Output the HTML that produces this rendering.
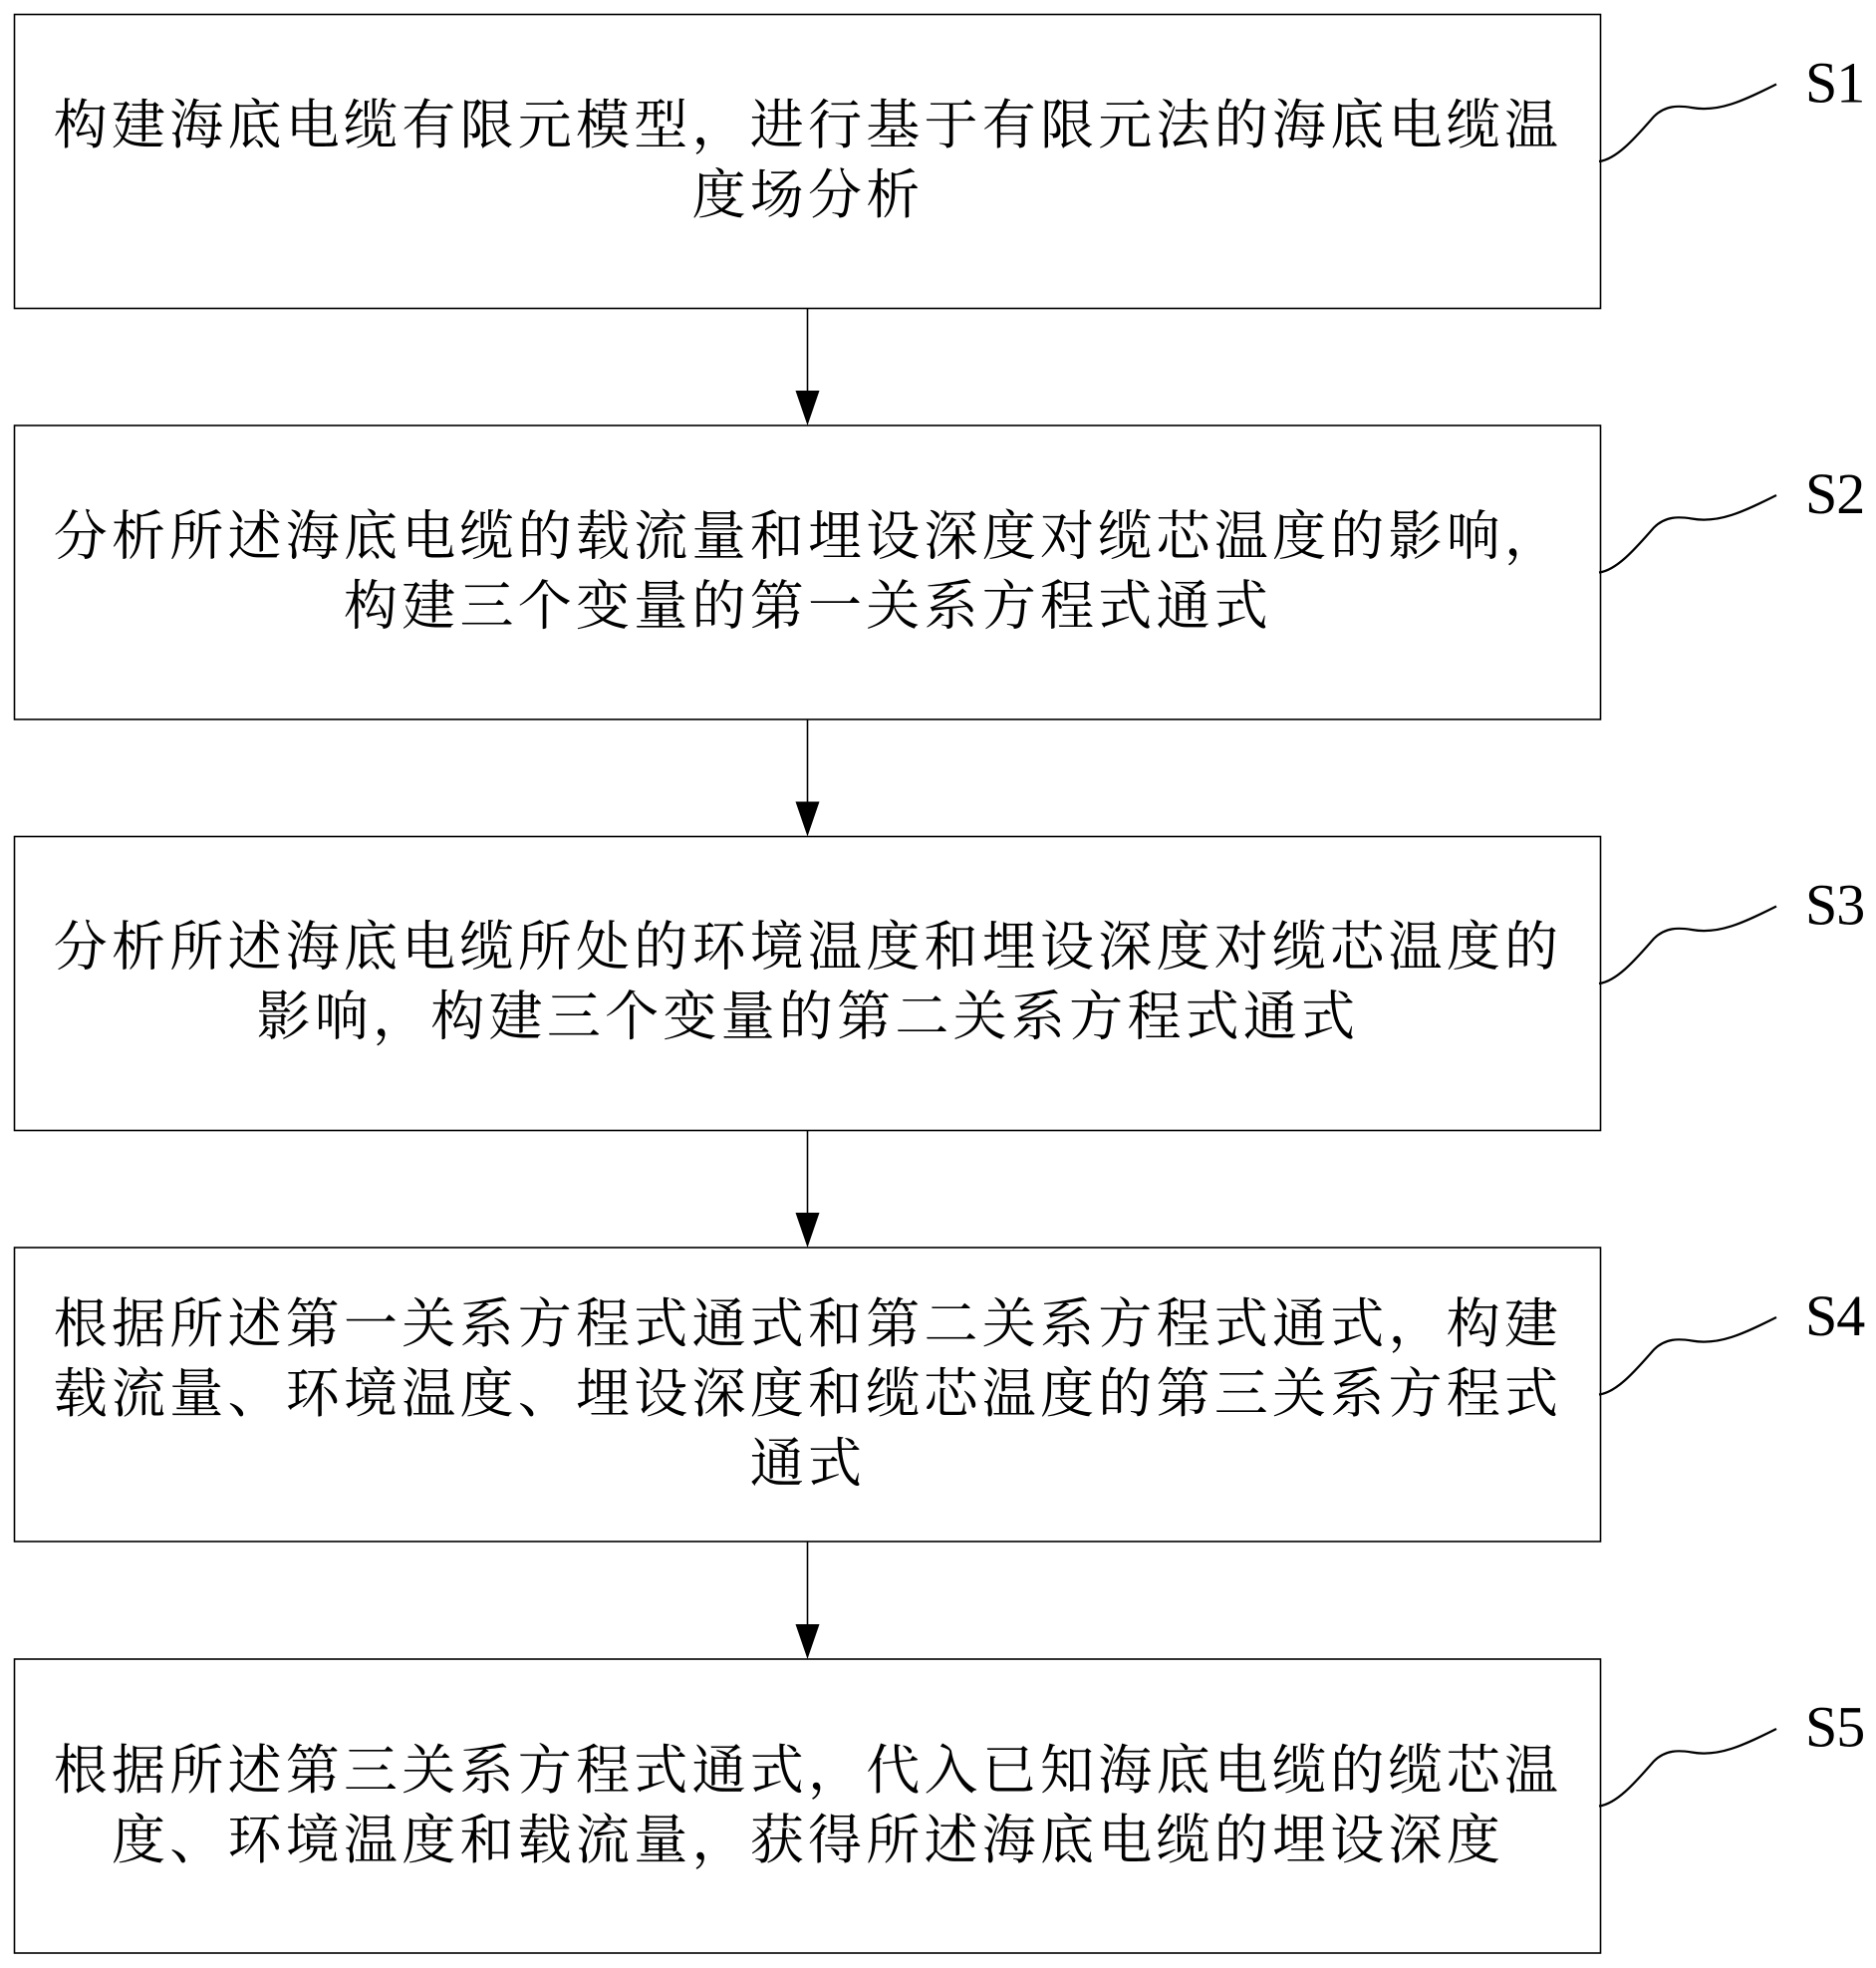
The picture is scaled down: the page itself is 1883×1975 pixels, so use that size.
<!DOCTYPE html>
<html><head><meta charset="utf-8"><style>
html,body{margin:0;padding:0;background:#fff}
svg{display:block}
.t{font-family:"Liberation Serif","Noto Serif CJK SC",serif;font-size:54px;letter-spacing:4.25px;text-anchor:middle;fill:#000}
.s{font-family:"Liberation Serif",serif;font-size:58px;letter-spacing:-1px;fill:#000}
.b{fill:none;stroke:#000;stroke-width:1.6}
.c{fill:none;stroke:#000;stroke-width:2.2}
.a{stroke:#000;stroke-width:1.6}
</style></head><body>
<svg width="1883" height="1975" viewBox="0 0 1883 1975" xmlns="http://www.w3.org/2000/svg">
<rect class="b" x="14.500" y="14.500" width="1592" height="295"/>
<rect class="b" x="14.500" y="427" width="1592" height="295"/>
<rect class="b" x="14.500" y="839.500" width="1592" height="295"/>
<rect class="b" x="14.500" y="1252" width="1592" height="295"/>
<rect class="b" x="14.500" y="1665" width="1592" height="295"/>

<text class="t" x="811" y="144">构建海底电缆有限元模型，进行基于有限元法的海底电缆温</text>
<text class="t" x="811" y="214">度场分析</text>
<text class="t" x="811" y="556.500">分析所述海底电缆的载流量和埋设深度对缆芯温度的影响，</text>
<text class="t" x="811" y="626.500">构建三个变量的第一关系方程式通式</text>
<text class="t" x="811" y="968.500">分析所述海底电缆所处的环境温度和埋设深度对缆芯温度的</text>
<text class="t" x="811" y="1038.500">影响，构建三个变量的第二关系方程式通式</text>
<text class="t" x="811" y="1347">根据所述第一关系方程式通式和第二关系方程式通式，构建</text>
<text class="t" x="811" y="1417">载流量、环境温度、埋设深度和缆芯温度的第三关系方程式</text>
<text class="t" x="811" y="1487">通式</text>
<text class="t" x="811" y="1795">根据所述第三关系方程式通式，代入已知海底电缆的缆芯温</text>
<text class="t" x="811" y="1865">度、环境温度和载流量，获得所述海底电缆的埋设深度</text>

<g>
<line class="a" x1="810.500" y1="309" x2="810.500" y2="395"/><polygon points="798.500,392 822.500,392 810.500,427"/>
<line class="a" x1="810.500" y1="722" x2="810.500" y2="807"/><polygon points="798.500,804.500 822.500,804.500 810.500,839.500"/>
<line class="a" x1="810.500" y1="1134" x2="810.500" y2="1220"/><polygon points="798.500,1217 822.500,1217 810.500,1252"/>
<line class="a" x1="810.500" y1="1547" x2="810.500" y2="1633"/><polygon points="798.500,1630 822.500,1630 810.500,1665"/>
</g>

<g>
<path class="c" d="M1605,162 C1622,160 1640,140 1660,117 C1672,105 1686,106 1698,108 C1725,113 1750,101 1783,84.500"/>
<path class="c" transform="translate(0,412.500)" d="M1605,162 C1622,160 1640,140 1660,117 C1672,105 1686,106 1698,108 C1725,113 1750,101 1783,84.500"/>
<path class="c" transform="translate(0,825)" d="M1605,162 C1622,160 1640,140 1660,117 C1672,105 1686,106 1698,108 C1725,113 1750,101 1783,84.500"/>
<path class="c" transform="translate(0,1237.500)" d="M1605,162 C1622,160 1640,140 1660,117 C1672,105 1686,106 1698,108 C1725,113 1750,101 1783,84.500"/>
<path class="c" transform="translate(0,1650.500)" d="M1605,162 C1622,160 1640,140 1660,117 C1672,105 1686,106 1698,108 C1725,113 1750,101 1783,84.500"/>
</g>

<text class="s" x="1812" y="102.500">S1</text>
<text class="s" x="1812" y="515">S2</text>
<text class="s" x="1812" y="927.500">S3</text>
<text class="s" x="1812" y="1340">S4</text>
<text class="s" x="1812" y="1752.500">S5</text>
</svg>
</body></html>
